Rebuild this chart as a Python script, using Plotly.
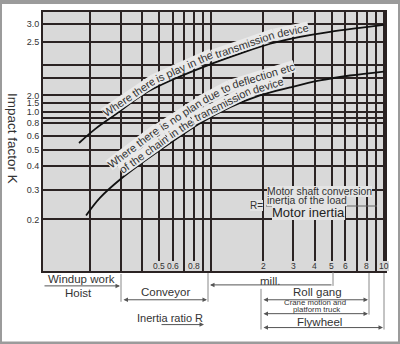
import math
import plotly.graph_objects as go

# ---------------- data ----------------
# inertia ratio R grid (log axis)
ratio_grid = [0.2, 0.3, 0.4, 0.5, 0.6, 0.7, 0.8, 0.9, 1, 2, 3, 4, 5, 6, 7, 8, 9, 10]
ratio_label_vals = [0.5, 0.6, 0.8, 2, 3, 4, 5, 6, 8, 10]
ratio_labels = ["0.5", "0.6", "0.8", "2", "3", "4", "5", "6", "8", "10"]

# impact factor K: non-uniform chart scale (position of each grid line) and its labels
k_scale_pos = [249, 231, 208, 194, 177, 169, 160, 154, 149, 136, 122, 106, 82, 52]
k_scale_text = ["3.0", "2.5", "", "", "2.0", "1.5", "1.0", "", "0.8", "0.6", "0.5", "0.4", "0.3", "0.2"]

# curve: where there is play in the transmission device
play_R = [0.172, 0.213, 0.286, 0.404, 0.603, 0.948, 1.47, 2.20, 3.28, 4.89, 7.29, 10]
play_K = [129, 143, 159, 178, 193, 207, 219, 229, 236, 241, 245, 248]

# curve: no play due to deflection of the chain
noplay_R = [0.189, 0.228, 0.301, 0.398, 0.603, 0.864, 1.29, 1.92, 2.87, 4.28, 6.38, 10]
noplay_K = [56, 74, 93, 109, 131, 149, 165, 177, 185, 192, 197, 201]

# ---------------- layout geometry ----------------
W, H = 400, 344
ML, MR, MT, MB = 43, 15, 10, 73
PW, PH = W - ML - MR, H - MT - MB

def P(px, py):
    return (px - ML) / PW, (MT + PH - py) / PH

FONT = "Arial, Liberation Sans, sans-serif"
TXT = "#333333"
GRID = "#2b2323"
PLOTBG = "#d9d9d9"
BAND = "#e9e9e9"
NB = "\u00a0"

fig = go.Figure()
for xs, ys in ((play_R, play_K), (noplay_R, noplay_K)):
    fig.add_trace(go.Scatter(x=xs, y=ys, mode="lines",
                             line=dict(color="#111111", width=1.8, shape="spline"),
                             hoverinfo="skip", showlegend=False))

ann = []

def text(t, px, py, size=11, angle=0, bg=None, xanchor="center", color=TXT):
    x, y = P(px, py)
    d = dict(text=t, x=x, y=y, xref="paper", yref="paper", showarrow=False, textangle=angle,
             font=dict(family=FONT, size=size, color=color), xanchor=xanchor, yanchor="middle",
             borderpad=0, borderwidth=0)
    if bg:
        d["bgcolor"] = bg
    ann.append(d)

CS = 11
# curve texts (upper curve)
text("Where there", 129.1, 96.1, CS, -34, BAND)
text(NB + "is play in the", 183.4, 65.9, CS, -24, BAND)
text(NB + "transmission", 243.4, 43.7, CS, -19, BAND)
text(NB + "device", 291.0, 29.6, CS, -12, BAND)

# lower curve, first line
text("Where there", 133.7, 146.3, CS, -37, BAND)
text(NB + "is no plan", 178.8, 114.3, CS, -33, BAND)
text(NB + "due to", 214.6, 92.6, CS, -28, BAND)
text(NB + "deflection etc", 261.9, 74.4, CS, -17, BAND)
# lower curve, second line
text("of the chain", 143.9, 152.9, CS, -35.5, BAND)
text(NB + "in the", 179.7, 128.1, CS, -33, BAND)
text(NB + "transmission", 221.1, 104.1, CS, -27, BAND)
text(NB + "device", 266.5, 84.1, CS, -17, BAND)

# formula
FB = "#e4e4e4"
text("R=", 256, 205, 10, 0, FB)
text("Motor shaft conversion", 267, 190.5, 10.4, 0, FB, "left")
text("inertja of the load", 267, 199.5, 10.4, 0, FB, "left")
text("Motor inertia", 272, 212.5, 13, 0, FB, "left", "#222222")

# y title
text("Impact factor K", 13, 137, 13.5, 90)

# x tick labels inside the plot
for v, lab in zip(ratio_label_vals, ratio_labels):
    ann.append(dict(text=lab, x=math.log10(v), y=P(0, 265.5)[1], xref="x", yref="paper", showarrow=False,
                    font=dict(family=FONT, size=8.5, color=TXT), bgcolor=PLOTBG, borderpad=0, borderwidth=0,
                    xanchor="center", yanchor="middle"))

# bottom labels
text("Windup work", 81, 279, 11.5)
text("Hoist", 78, 293, 11.5)
text("Conveyor", 165, 292, 11.5)
text("mill.", 270, 281, 11.5)
text("Roll gang", 317, 292, 11.5)
text("Crane motion and", 315, 302.5, 7.8)
text("platform truck", 316, 310, 7.8)
text("Flywheel", 319, 322, 11.5)
text("Inertia ratio R", 170, 318, 11)

# arrows
def arrow(x_tail, x_head, py, side="end"):
    x, y = P(x_head, py)
    ann.append(dict(text="", x=x, y=y, xref="paper", yref="paper", showarrow=True,
                    ax=x_tail - x_head, ay=0, axref="pixel", ayref="pixel",
                    arrowhead=2, arrowsize=0.9, arrowwidth=1, arrowcolor="#555555",
                    arrowside=side, standoff=0, startstandoff=0, startarrowhead=2, startarrowsize=0.9))

arrow(43, 120, 286)
arrow(122, 207, 300, "end+start")
arrow(333, 210, 285)
arrow(262, 368, 300, "end+start")
arrow(262, 368, 314, "end+start")
arrow(262, 383, 328, "end+start")
arrow(160, 204, 325)

shapes = []

def vline(px, py0, py1, color="#888888", width=1):
    x, y0 = P(px, py0)
    _, y1 = P(px, py1)
    shapes.append(dict(type="line", xref="paper", yref="paper", x0=x, x1=x, y0=y0, y1=y1,
                       line=dict(color=color, width=width)))

vline(121, 274, 302)
vline(208, 273, 302)
vline(333, 272, 286)
vline(261, 289, 330)
vline(369, 273, 315)
vline(384, 273, 330)

# fraction bar
x0, yb = P(266, 205.5)
x1, _ = P(377, 205.5)
shapes.append(dict(type="line", xref="paper", yref="paper", x0=x0, x1=x1, y0=yb, y1=yb,
                   line=dict(color="#666666", width=1)))

# outer frame
fx0, fy1 = P(0, 0)
fx1, fy0 = P(W, H)
shapes.append(dict(type="rect", xref="paper", yref="paper", x0=fx0, x1=fx1, y0=fy0, y1=fy1,
                   line=dict(color="#9b9b9b", width=4), layer="above"))

fig.update_layout(
    width=W, height=H, margin=dict(l=ML, r=MR, t=MT, b=MB),
    paper_bgcolor="white", plot_bgcolor=PLOTBG,
    showlegend=False, annotations=ann, shapes=shapes,
    font=dict(family=FONT, color=TXT),
    xaxis=dict(type="log", range=[-0.973, 1.0075], tickvals=ratio_grid, showticklabels=False,
               showgrid=True, gridcolor=GRID, gridwidth=2, zeroline=False,
               showline=True, mirror=True, linecolor=GRID, linewidth=2, ticks=""),
    yaxis=dict(range=[0, PH], tickvals=k_scale_pos, ticktext=k_scale_text,
               showgrid=True, gridcolor=GRID, gridwidth=2, zeroline=False,
               showline=True, mirror=True, linecolor=GRID, linewidth=2, ticks="",
               tickfont=dict(family=FONT, size=9, color=TXT)),
)

fig.write_html("out.html")
